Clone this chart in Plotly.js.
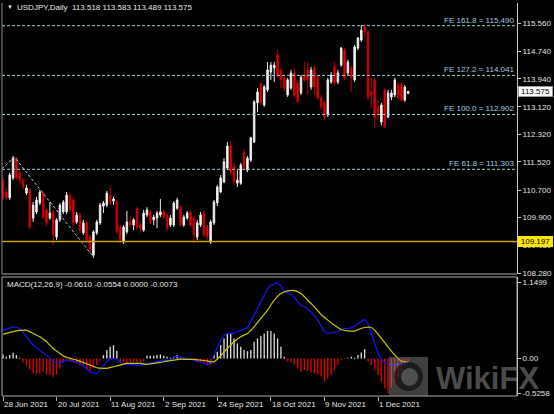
<!DOCTYPE html>
<html><head><meta charset="utf-8">
<script src="https://cdn.plot.ly/plotly-3.0.1.min.js"></script>
<style>html,body{margin:0;padding:0;background:#000;}#chart{width:554px;height:414px;}</style>
</head><body><div id="chart"></div>
<script>
// ---- data ----
const open = [
110.99,110.64,110.47,111.05,111.63,111.20,110.99,110.61,110.70,109.88,
110.06,110.32,110.61,110.12,109.88,110.06,109.33,109.83,110.06,110.06,
110.55,110.41,109.77,109.97,109.45,109.74,109.33,108.80,109.45,109.74,
110.23,110.26,110.55,110.38,110.35,109.62,109.21,109.48,109.77,109.68,
110.15,109.68,109.53,109.97,110.06,109.83,109.88,109.97,110.06,109.97,
109.68,109.68,110.17,110.20,109.68,109.88,110.06,109.88,109.33,109.68,
110.03,109.62,109.18,109.74,110.32,110.64,110.93,111.34,111.98,111.40,
110.90,110.90,111.78,111.28,111.57,112.10,113.24,113.79,113.18,113.62,
114.14,114.26,114.64,114.20,113.97,113.47,113.67,114.11,113.82,113.53,
114.05,114.20,113.70,114.26,113.99,113.38,113.24,112.89,113.85,114.29,
113.85,114.34,114.78,114.11,114.26,113.91,114.84,115.07,115.45,115.31,
113.56,113.91,113.12,112.68,113.62,112.83,113.41,113.47,113.76,113.76,
113.32,113.518];
const high = [
111.08,110.76,111.20,111.69,111.66,111.28,111.05,110.85,110.76,110.35,
110.50,110.70,110.67,110.17,110.35,110.12,109.88,110.32,110.41,110.64,
110.61,110.47,110.06,110.03,109.83,109.80,109.39,109.53,109.83,110.32,
110.38,110.67,110.82,110.50,110.41,109.68,109.68,110.09,109.94,109.88,
110.20,109.77,110.12,110.20,110.12,109.97,110.09,110.44,110.12,110.03,
109.97,110.38,110.47,110.26,109.97,110.09,110.12,109.94,109.83,110.06,
110.09,109.68,109.83,110.41,110.85,111.14,111.63,112.10,112.10,111.49,
111.28,111.49,111.87,111.69,112.25,113.32,113.67,113.85,113.76,114.43,
114.43,114.43,114.78,114.26,114.05,113.97,114.20,114.26,113.91,114.05,
114.43,114.43,114.29,114.34,114.05,113.47,113.32,113.97,114.14,114.43,
114.20,114.87,114.84,114.49,114.34,114.93,115.16,115.51,115.51,115.36,
113.97,113.97,113.32,113.24,113.67,113.62,113.62,113.97,113.85,113.82,
113.76,113.583];
const low = [
110.41,110.41,110.41,110.99,110.99,110.90,110.70,110.55,109.56,109.77,
110.00,110.26,109.85,109.65,109.83,109.10,109.24,109.77,110.00,110.00,
110.06,109.65,109.71,109.45,109.39,109.15,108.86,108.72,109.39,109.68,
110.03,110.20,110.26,110.26,109.42,109.15,109.13,109.42,109.62,109.53,
109.53,109.45,109.48,109.91,109.71,109.68,109.59,109.91,109.85,109.53,
109.62,109.62,110.12,109.62,109.62,109.83,109.62,109.15,109.24,109.62,
109.33,109.24,109.13,109.68,110.23,110.61,110.90,111.28,111.14,110.85,
110.79,110.85,111.28,111.22,111.52,112.07,112.97,113.18,113.12,113.56,
113.91,113.85,113.97,113.67,113.56,113.41,113.62,113.38,113.24,113.47,
113.85,113.47,113.62,113.47,113.32,113.03,112.74,112.83,113.79,113.76,
113.79,114.29,113.91,114.05,113.56,113.85,114.78,115.02,115.16,113.32,
113.09,112.51,112.74,112.59,112.51,112.80,113.32,113.41,113.32,113.27,
113.27,113.489];
const close = [
110.47,110.47,111.14,111.63,111.05,110.99,110.79,110.76,109.62,110.26,
110.41,110.64,109.91,109.74,110.03,109.39,109.83,110.26,110.35,110.55,
110.12,109.74,109.97,109.53,109.74,109.24,108.95,109.48,109.77,110.26,
110.32,110.61,110.32,110.44,109.48,109.24,109.62,109.77,109.68,109.83,
109.62,109.59,110.03,110.12,109.77,109.91,110.03,110.06,109.91,109.59,
109.88,110.32,110.41,109.68,109.91,110.03,109.68,109.39,109.74,109.97,
109.39,109.33,109.77,110.35,110.79,111.05,111.52,111.98,111.22,110.93,
110.99,111.43,111.34,111.63,112.22,113.27,113.56,113.24,113.70,114.20,
114.34,114.34,114.02,113.91,113.67,113.91,114.11,113.47,113.27,113.99,
113.91,113.91,114.20,113.70,113.38,113.12,112.83,113.91,114.05,113.82,
114.11,114.84,113.97,114.43,113.97,114.87,115.13,115.36,115.31,113.41,
113.47,112.80,112.89,113.18,112.54,113.53,113.53,113.91,113.41,113.32,
113.70,113.575];

const macdMain = [
0.43,0.445,0.465,0.48,0.47,0.455,0.395,0.33,0.279,0.204,
0.163,0.128,0.088,0.053,0.003,-0.038,-0.063,-0.063,-0.048,-0.023,
-0.023,-0.038,-0.058,-0.073,-0.108,-0.148,-0.199,-0.224,-0.224,-0.173,
-0.098,-0.038,-0.008,0.003,-0.008,-0.058,-0.083,-0.088,-0.098,-0.098,
-0.098,-0.098,-0.088,-0.073,-0.063,-0.058,-0.038,-0.028,-0.023,-0.028,
-0.018,0.013,0.038,0.018,0.003,0.003,-0.008,-0.028,-0.038,-0.048,
-0.063,-0.098,-0.058,0.053,0.178,0.279,0.354,0.38,0.38,0.38,
0.405,0.43,0.445,0.465,0.556,0.656,0.757,0.857,0.958,1.058,
1.109,1.134,1.149,1.098,1.018,0.993,0.968,0.933,0.857,0.807,
0.782,0.747,0.706,0.646,0.581,0.495,0.405,0.38,0.39,0.395,
0.405,0.44,0.455,0.455,0.465,0.49,0.53,0.566,0.596,0.53,
0.38,0.229,0.078,-0.008,-0.058,-0.088,-0.098,-0.098,-0.088,-0.078,
-0.068,-0.061];
const signalIdx = [0,2,5,7,9,11,13,15,17,18,20,22,24,26,28,30,31,33,35,37,39,41,43,45,47,49,51,53,55,57,59,61,62,63,64,65,66,67,69,71,73,75,77,79,81,83,85,87,89,91,93,95,97,99,101,103,105,106,108,110,111,113,115,117,119,121];
const signalVal = [0.365,0.395,0.425,0.43,0.38,0.33,0.254,0.153,0.078,0.038,0.003,-0.023,-0.058,-0.098,-0.138,-0.148,-0.148,-0.123,-0.098,-0.073,-0.073,-0.073,-0.088,-0.073,-0.058,-0.038,-0.023,-0.008,-0.013,-0.013,-0.023,-0.035,-0.05,-0.045,-0.01,0.045,0.10,0.153,0.254,0.33,0.38,0.48,0.606,0.732,0.882,0.983,1.023,1.028,0.983,0.882,0.782,0.666,0.581,0.505,0.44,0.42,0.415,0.44,0.47,0.47,0.43,0.304,0.178,0.053,-0.038,-0.0554];
const histVal = [
0.063,0.028,0.053,0.088,0.053,0.013,-0.058,-0.108,-0.173,-0.224,
-0.239,-0.224,-0.199,-0.239,-0.249,-0.274,-0.239,-0.148,-0.058,-0.023,
-0.048,-0.058,-0.073,-0.098,-0.123,-0.163,-0.199,-0.148,-0.098,-0.038,
0.053,0.128,0.178,0.204,0.113,-0.048,-0.058,-0.073,-0.073,-0.058,
-0.058,-0.058,-0.038,0.043,0.043,0.043,0.053,0.063,0.043,0.028,
0.013,0.028,0.053,0.028,0.013,0.013,0.003,-0.038,-0.058,-0.048,
-0.073,-0.08,-0.098,0.053,0.103,0.204,0.304,0.38,0.38,0.304,
0.229,0.178,0.128,0.113,0.128,0.254,0.304,0.344,0.38,0.415,
0.415,0.38,0.304,0.178,0.028,-0.038,-0.058,-0.088,-0.148,-0.199,
-0.173,-0.189,-0.209,-0.224,-0.239,-0.274,-0.349,-0.299,-0.249,-0.173,
-0.098,-0.023,0.003,0.013,0.028,0.013,0.053,0.093,0.143,-0.038,
-0.098,-0.173,-0.249,-0.349,-0.45,-0.52,-0.44,-0.349,-0.274,-0.199,
-0.098,-0.058];
const macdReadout = ['-0.0610','-0.0554','0.0000','-0.0073'];

const dateTickIdx = [0,16,32,48,64,80,96,112];
const dateTickText = ['28 Jun 2021','20 Jul 2021','11 Aug 2021','2 Sep 2021','24 Sep 2021','18 Oct 2021','9 Nov 2021','1 Dec 2021'];
const priceTicks = [115.560,114.740,113.940,113.120,112.320,111.520,110.700,109.900,109.080,108.280];
const macdTicks = [1.1499,0,-0.5258];
const macdTickText = ['1.1499','0.00','-0.5258'];
const feRatio = ['61.8','100.0','127.2','161.8'];
const feValue = [111.303,112.902,114.041,115.490];
const feAnchorIdx = [-0.4,3.4,26.6];
const feAnchorPrice = [111.31,111.66,108.80];
const supportLevel = 109.197;

// ---- layout helpers (pixels -> paper) ----
const L=2,R=517,T=3,B=396;
const px = x => (x-L)/(R-L);
const py = y => (B-y)/(B-T);
const idx = open.map((_,i)=>i);
const last = open.length-1;

const feCol = '#9ccfd6', feTxt = '#a9cbe0', gridGray = '#8a8a8a';

const traces = [
 {type:'candlestick', x:idx, open:open, high:high, low:low, close:close, xaxis:'x', yaxis:'y',
  increasing:{line:{color:'#e8e8e8',width:1}, fillcolor:'#ffffff'},
  decreasing:{line:{color:'#c00000',width:1}, fillcolor:'#ff0000'},
  whiskerwidth:0, hoverinfo:'skip', showlegend:false},
 {type:'bar', x:idx, y:histVal, xaxis:'x2', yaxis:'y2', width:0.4,
  marker:{color:histVal.map(v=>v>=0?'#d8d8d8':'#e00000'), line:{width:0}}, hoverinfo:'skip', showlegend:false},
 {type:'scatter', mode:'lines', x:idx, y:macdMain, xaxis:'x2', yaxis:'y2',
  line:{color:'#1414ff',width:1.2}, hoverinfo:'skip', showlegend:false},
 {type:'scatter', mode:'lines', x:signalIdx, y:signalVal, xaxis:'x2', yaxis:'y2',
  line:{color:'#c8c800',width:1.2, shape:'spline', smoothing:0.6}, hoverinfo:'skip', showlegend:false}
];

const shapes = [];
feValue.forEach(v=>shapes.push({type:'line',xref:'paper',yref:'y',x0:0,x1:1,y0:v,y1:v,line:{color:feCol,width:1,dash:'3px,2px'}}));
shapes.push({type:'path', xref:'x', yref:'y',
  path:'M'+feAnchorIdx.map((x,i)=>x+','+feAnchorPrice[i]).join(' L'), line:{color:feCol,width:1,dash:'3px,2px'}});
shapes.push({type:'line',xref:'paper',yref:'y',x0:0,x1:1,y0:supportLevel,y1:supportLevel,line:{color:'#c9a200',width:1.6}});
// frames
shapes.push({type:'line',xref:'paper',yref:'paper',x0:0,x1:0,y0:py(274),y1:1,line:{color:gridGray,width:1}});
shapes.push({type:'line',xref:'paper',yref:'paper',x0:0,x1:1,y0:py(274),y1:py(274),line:{color:'#a8a8a8',width:1}});
shapes.push({type:'rect',xref:'paper',yref:'paper',x0:0,x1:1,y0:0,y1:py(277),line:{color:'#a8a8a8',width:1}});
// watermark logo
const lx0=px(389), lx1=px(428), ly0=py(396), ly1=py(357);
shapes.push({type:'rect',xref:'paper',yref:'paper',x0:lx0,x1:lx1,y0:ly0,y1:ly1,fillcolor:'rgba(140,140,140,0.45)',line:{width:0}, layer:'above'});
shapes.push({type:'circle',xref:'paper',yref:'paper',x0:px(394),x1:px(423),y0:py(391),y1:py(362),fillcolor:'rgba(0,0,0,0.55)',line:{width:0}, layer:'above'});
shapes.push({type:'circle',xref:'paper',yref:'paper',x0:px(401),x1:px(418),y0:py(386),y1:py(368),fillcolor:'rgba(140,140,140,0.45)',line:{width:0}, layer:'above'});

const annotations = [];
annotations.push({xref:'paper',yref:'paper',x:px(5),y:py(7.5),xanchor:'left',yanchor:'middle',text:'▼',showarrow:false,font:{size:6,color:'#e6e6e6'}});
annotations.push({xref:'paper',yref:'paper',x:px(15),y:py(7.5),xanchor:'left',yanchor:'middle',showarrow:false,
  text:'USDJPY,Daily\u00a0\u00a0'+[open[last],high[last],low[last],close[last]].map(v=>v.toFixed(3)).join(' '),font:{size:8,color:'#e6e6e6'}});
annotations.push({xref:'paper',yref:'paper',x:px(5),y:py(284),xanchor:'left',yanchor:'middle',showarrow:false,
  text:'MACD(12,26,9) '+macdReadout.join(' '),font:{size:8,color:'#e6e6e6'}});
feValue.forEach((v,i)=>annotations.push({xref:'paper',yref:'y',x:1,y:v,xanchor:'right',yanchor:'bottom',xshift:-1,yshift:-1,showarrow:false,
  text:'FE '+feRatio[i]+' = '+v.toFixed(3),font:{size:8,color:feTxt}}));
dateTickIdx.forEach((d,i)=>annotations.push({xref:'x',yref:'paper',x:d,y:py(404),xanchor:'left',yanchor:'middle',xshift:-1,showarrow:false,
  text:dateTickText[i],font:{size:8,color:'#e6e6e6'}}));
annotations.push({xref:'paper',yref:'y',x:1,y:close[last],xanchor:'left',yanchor:'middle',xshift:1,showarrow:false,
  text:close[last].toFixed(3),bgcolor:'#ffffff',bordercolor:'#9a9a9a',borderwidth:1,borderpad:0,width:33,height:9,font:{size:8,color:'#000'}});
annotations.push({xref:'paper',yref:'y',x:1,y:supportLevel,xanchor:'left',yanchor:'middle',xshift:1,showarrow:false,
  text:supportLevel.toFixed(3),bgcolor:'#ffe600',bordercolor:'#ffe600',borderwidth:1,borderpad:0,width:33,height:9,font:{size:8,color:'#000'}});
annotations.push({xref:'paper',yref:'paper',x:px(434),y:py(378),xanchor:'left',yanchor:'middle',showarrow:false,
  text:'<b>WikiFX</b>',font:{size:31,color:'rgba(140,140,140,0.55)',family:'Liberation Sans'}});

const layout = {
  width:554, height:414, paper_bgcolor:'#000', plot_bgcolor:'#000',
  margin:{l:L, r:554-R, t:T, b:414-B}, showlegend:false, hovermode:false,
  font:{family:'Liberation Sans, Arial, sans-serif', size:8, color:'#e6e6e6'},
  boxgap:0.35,
  xaxis:{domain:[0,1], range:[-0.3,153.5], anchor:'y', showticklabels:false, showgrid:false, zeroline:false, showline:false, ticks:'', rangeslider:{visible:false}, fixedrange:true},
  xaxis2:{domain:[0,1], matches:'x', anchor:'y2', showgrid:false, zeroline:false, showline:false,
    tickvals:dateTickIdx, ticktext:dateTickIdx.map(()=>''), ticks:'outside', ticklen:4, tickcolor:'#a8a8a8', showticklabels:false},
  yaxis:{domain:[py(274),1], range:[108.2510,116.1518], side:'right', anchor:'x', showgrid:false, zeroline:false,
    showline:true, linecolor:'#c8c8c8', linewidth:1, tickvals:priceTicks, ticktext:priceTicks.map(v=>v.toFixed(3)),
    ticks:'outside', ticklen:3, tickcolor:'#c8c8c8', tickfont:{size:8,color:'#e0e0e0'}},
  yaxis2:{domain:[0,py(277)], range:[-0.5650,1.2326], side:'right', anchor:'x2', showgrid:false, zeroline:false,
    showline:true, linecolor:'#c8c8c8', linewidth:1, tickvals:macdTicks, ticktext:macdTickText,
    ticks:'outside', ticklen:3, tickcolor:'#c8c8c8', tickfont:{size:8,color:'#e0e0e0'}},
  shapes:shapes, annotations:annotations
};
Plotly.newPlot('chart', traces, layout, {staticPlot:true, displayModeBar:false});
</script></body></html>
